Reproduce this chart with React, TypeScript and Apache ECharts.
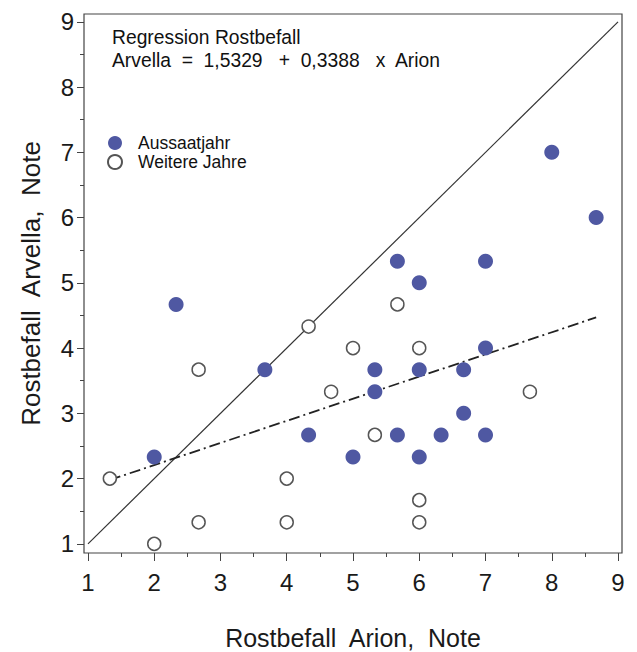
import React, { useEffect, useRef } from "react";
import * as echarts from "echarts";

const majorTicks = [1, 2, 3, 4, 5, 6, 7, 8, 9];
const minorTicks = [1.5, 2.5, 3.5, 4.5, 5.5, 6.5, 7.5, 8.5];

const seriesNames = ["Aussaatjahr", "Weitere Jahre"];

const aussaatjahr: [number, number][] = [
  [2.33, 4.67], [3.67, 3.67], [2, 2.33], [4.33, 2.67], [5, 2.33],
  [5.33, 3.67], [5.33, 3.33], [5.67, 5.33], [6, 5], [6, 3.67],
  [5.67, 2.67], [6, 2.33], [6.33, 2.67], [6.67, 3.67], [6.67, 3],
  [7, 5.33], [7, 4], [7, 2.67], [8, 7], [8.67, 6],
];

const weitereJahre: [number, number][] = [
  [1.33, 2], [2, 1], [2.67, 3.67], [2.67, 1.33], [4, 2], [4, 1.33],
  [4.33, 4.33], [4.67, 3.33], [5, 4], [5.33, 2.67], [5.67, 4.67],
  [6, 4], [6, 1.67], [6, 1.33], [7.67, 3.33],
];

const diagonalLine: [number, number][] = [[1, 1], [9, 9]];
const regressionLine: [number, number][] = [[1.33, 1.98], [8.67, 4.47]];

const titleLines = [
  "Regression Rostbefall",
  "Arvella  =  1,5329   +  0,3388   x  Arion",
];

const xName = "Rostbefall  Arion,  Note";
const yName = "Rostbefall  Arvella,  Note";

const FONT = "'Liberation Sans', Arial, Helvetica, sans-serif";

export default function App() {
  const ref = useRef<HTMLDivElement>(null);
  useEffect(() => {
    if (!ref.current) return;
    const chart = echarts.init(ref.current, undefined, { renderer: "svg" });
    const X_MIN = 0.94, X_MAX = 9.06, Y_MIN = 0.86, Y_MAX = 9.12;
    const baseAxis = {
      type: "value",
      axisLine: { show: false },
      splitLine: { show: false },
    };
    chart.setOption({
      animation: false,
      backgroundColor: "#ffffff",
      textStyle: { fontFamily: FONT },
      grid: {
        left: 84, right: 15, top: 14, bottom: 99,
        containLabel: false,
        outerBoundsMode: "none",
        show: true, borderColor: "#444", borderWidth: 1.2,
        backgroundColor: "transparent",
      },
      legend: {
        data: seriesNames,
        orient: "vertical",
        left: 107,
        top: 134,
        padding: 0,
        itemWidth: 36,
        itemHeight: 14,
        itemGap: 1,
        icon: "circle",
        textStyle: { fontSize: 17.5, color: "#111", fontFamily: FONT },
      },
      xAxis: [
        {
          ...baseAxis,
          min: X_MIN, max: X_MAX, position: "bottom",
          name: xName, nameLocation: "middle", nameGap: 72,
          nameTextStyle: { fontSize: 25, color: "#1a1a1a", fontFamily: FONT },
          axisTick: { show: true, customValues: majorTicks, length: 8, lineStyle: { color: "#444" } },
          axisLabel: { customValues: majorTicks, fontSize: 24, color: "#1a1a1a", margin: 17, fontFamily: FONT },
        },
        {
          ...baseAxis,
          min: X_MIN, max: X_MAX, position: "bottom", offset: 0,
          axisTick: { show: true, customValues: minorTicks, length: 4, lineStyle: { color: "#444" } },
          axisLabel: { show: false },
        },
      ],
      yAxis: [
        {
          ...baseAxis,
          min: Y_MIN, max: Y_MAX, position: "left",
          name: yName, nameLocation: "middle", nameGap: 40,
          nameTextStyle: { fontSize: 26, color: "#1a1a1a", fontFamily: FONT },
          axisTick: { show: true, customValues: majorTicks, length: 7, lineStyle: { color: "#444" } },
          axisLabel: { customValues: majorTicks, fontSize: 24, color: "#1a1a1a", margin: 10, fontFamily: FONT },
        },
        {
          ...baseAxis,
          min: Y_MIN, max: Y_MAX, position: "left", offset: 0,
          axisTick: { show: true, customValues: minorTicks, length: 4, lineStyle: { color: "#444" } },
          axisLabel: { show: false },
        },
      ],
      graphic: [
        {
          type: "text", left: 112, top: 28,
          style: { text: titleLines[0], fontSize: 19.3, fill: "#111", fontFamily: FONT },
        },
        {
          type: "text", left: 112, top: 51,
          style: { text: titleLines[1], fontSize: 19.3, fill: "#111", fontFamily: FONT },
        },
      ],
      series: [
        {
          name: "diagonal", type: "line", data: diagonalLine,
          symbol: "none", silent: true,
          lineStyle: { color: "#333", width: 1.2 },
          z: 1,
        },
        {
          name: "regression", type: "line", data: regressionLine,
          symbol: "none", silent: true,
          lineStyle: { color: "#222", width: 1.8, type: [11, 4, 2, 4] },
          z: 1,
        },
        {
          name: seriesNames[0], type: "scatter", data: aussaatjahr,
          symbol: "circle", symbolSize: 15,
          itemStyle: { color: "#4f58a2", opacity: 1 },
          z: 3,
        },
        {
          name: seriesNames[1], type: "scatter", data: weitereJahre,
          symbol: "circle", symbolSize: 13,
          itemStyle: { color: "#ffffff", borderColor: "#555", borderWidth: 1.5, opacity: 1 },
          z: 3,
        },
      ],
    });
    return () => chart.dispose();
  }, []);
  return <div ref={ref} style={{ width: 637, height: 652, position: "absolute", left: 0, top: 0 }} />;
}
